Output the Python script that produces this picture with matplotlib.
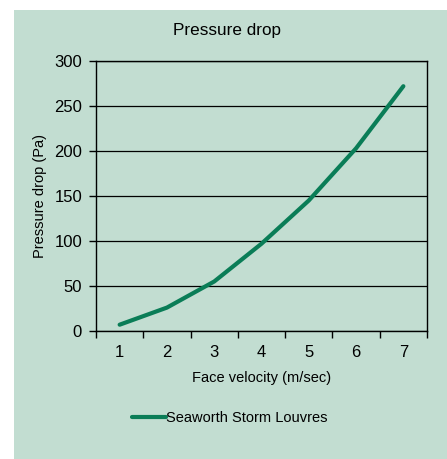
import matplotlib
matplotlib.use("Agg")
import matplotlib.pyplot as plt
from matplotlib.patches import Rectangle

# data
velocity = [1, 2, 3, 4, 5, 6, 7]
pressure = [7, 26, 55, 97, 145, 203, 272]
y_ticks = [0, 50, 100, 150, 200, 250, 300]
series_name = "Seaworth Storm Louvres"

BG = "#c2ddd1"
LINE = "#0a7d57"

plt.rcParams["font.family"] = ["Liberation Sans", "DejaVu Sans"]

fig = plt.figure(figsize=(4.47, 4.59), dpi=100)
fig.patch.set_facecolor("white")
fig.add_artist(Rectangle((14 / 447, 0), 1, 1 - 10 / 459, transform=fig.transFigure,
                         facecolor=BG, edgecolor="none", zorder=0))

ax = fig.add_axes([96 / 447, 1 - 331 / 459, 331 / 447, 270 / 459])
ax.set_facecolor(BG)
ax.plot(velocity, pressure, color=LINE, lw=3, solid_capstyle="round", label=series_name, zorder=3)

ax.set_xlim(0.5, 7.5)
ax.set_ylim(0, 300)
ax.set_yticks(y_ticks)
ax.set_xticks(velocity)
ax.set_xticks([v + 0.5 for v in [0] + velocity], minor=True)
ax.tick_params(axis="x", which="major", length=0, pad=10, labelsize=12)
ax.tick_params(axis="x", which="minor", length=5, width=1, direction="out")
ax.tick_params(axis="y", length=5, width=1, direction="out", pad=5, labelsize=12)
ax.grid(axis="y", color="black", lw=0.9)
for s in ax.spines.values():
    s.set_linewidth(1)

ax.set_xlabel("Face velocity (m/sec)", fontsize=10.5, labelpad=8)
ax.set_ylabel("Pressure drop (Pa)", fontsize=10.5, labelpad=5)
fig.text(227 / 447, 1 - 31 / 459, "Pressure drop", ha="center", va="center", fontsize=12.3)

leg = fig.legend(loc="center", bbox_to_anchor=(230 / 447, 1 - 418 / 459), frameon=False,
                 fontsize=10.5, handlelength=2.3, handletextpad=0.05)

fig.savefig("out.png", dpi=100, facecolor=fig.get_facecolor())
